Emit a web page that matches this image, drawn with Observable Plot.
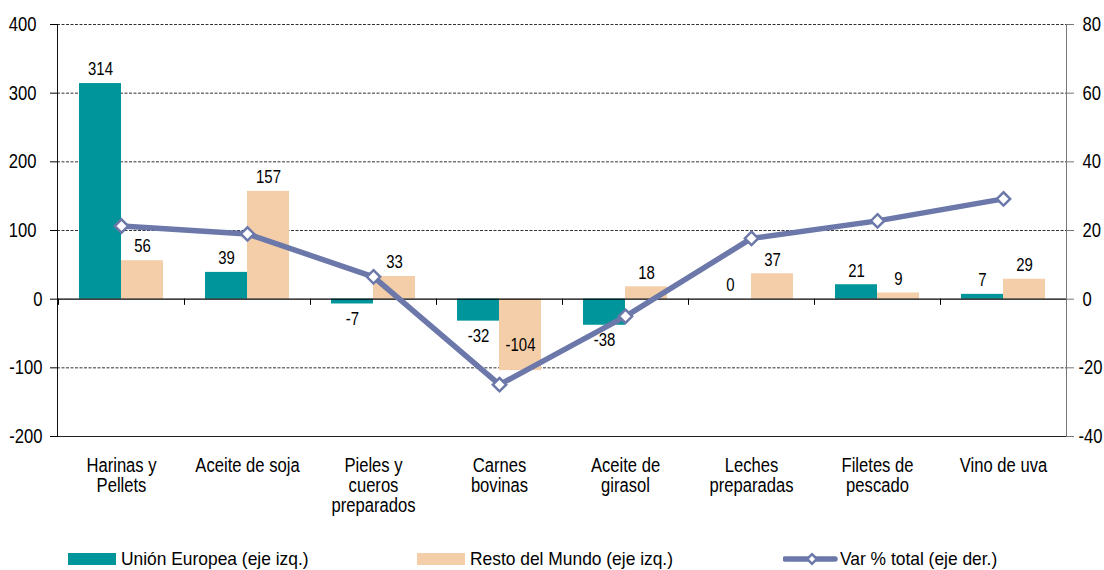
<!DOCTYPE html>
<html><head><meta charset="utf-8">
<script src="https://cdn.jsdelivr.net/npm/d3@7"></script>
<script src="https://cdn.jsdelivr.net/npm/@observablehq/plot@0.6"></script>
<style>
body{margin:0;background:#fff;}
#chart{position:relative;width:1104px;height:570px;font-family:"Liberation Sans",Arial,sans-serif;color:#000;}
#legend{position:relative;width:1104px;height:30px;font-size:18.5px;}
.item{position:absolute;top:4px;height:30px;display:flex;align-items:center;white-space:nowrap;}
.sw{display:inline-block;width:48px;height:12px;margin-right:5px;}
.lt{display:inline-block;transform:scaleX(0.94);transform-origin:left center;}
</style></head><body><div id="chart"></div>
<script>
const categories = ["Harinas y\nPellets", "Aceite de soja", "Pieles y\ncueros\npreparados", "Carnes\nbovinas", "Aceite de\ngirasol", "Leches\npreparadas", "Filetes de\npescado", "Vino de uva"];
const unionEuropea = [314, 39, -7, -32, -38, 0, 21, 7];
const restoMundo = [56, 157, 33, -104, 18, 37, 9, 29];
const varTotal = [21.3, 19.0, 6.5, -24.9, -5.0, 17.7, 22.8, 29.2];
const leftTicks = [-200, -100, 0, 100, 200, 300, 400];
const rightTicks = [-40, -20, 0, 20, 40, 60, 80];
const seriesNames = ["Unión Europea (eje izq.)", "Resto del Mundo (eje izq.)", "Var % total (eje der.)"];

const UE = "#00959B", RM = "#F4CEA8", LINE = "#6B78A9";
const FONT = '"Liberation Sans",Arial,sans-serif';
const K = 400 / 80; // right axis mapped onto left scale

const rows = categories.map((c, i) => ({cat: c, ue: unionEuropea[i], rm: restoMundo[i], pct: varTotal[i]}));
const half = 42;

const plot = Plot.plot({
  width: 1104, height: 540,
  marginLeft: 57, marginRight: 38, marginTop: 24, marginBottom: 104,
  style: {fontFamily: FONT, fontSize: "20px", color: "#000", background: "#fff", overflow: "visible"},
  x: {domain: categories, paddingInner: 1/3, paddingOuter: 1/6, label: null, axis: null},
  y: {domain: [-200, 400], label: null},
  marks: [
    Plot.ruleY(leftTicks.filter(t => t !== 0 && t !== -200), {stroke: "#333", strokeDasharray: "3,1.5", strokeWidth: 1}),
    Plot.barY(rows, {x: "cat", y: "ue", fill: UE, insetRight: half}),
    Plot.barY(rows, {x: "cat", y: "rm", fill: RM, insetLeft: half}),
    Plot.ruleY([0], {stroke: "#000", strokeWidth: 1.2}),
    Plot.ruleY([-200], {stroke: "#222", strokeWidth: 1.2}),
    Plot.ruleX(categories, {x: d => d, y1: 0, y2: -9, dx: -63, stroke: "#000"}),
    Plot.frame({anchor: "left", stroke: "#111"}),
    Plot.frame({anchor: "right", stroke: "#777"}),
    Plot.axisY(leftTicks.filter(t => t > 0), {anchor: "left", tickSize: 7, tickPadding: 14, tickFormat: d => d, fontSize: 20}),
    Plot.axisY(leftTicks.filter(t => t <= 0), {anchor: "left", tickSize: 7, tickPadding: 8, tickFormat: d => d, fontSize: 20}),
    Plot.axisY(rightTicks.filter(t => t >= 0).map(t => t * K), {anchor: "right", tickSize: 7, tickPadding: 9, tickFormat: d => d / K, fontSize: 20, stroke: "#777"}),
    Plot.axisY(rightTicks.filter(t => t < 0).map(t => t * K), {anchor: "right", tickSize: 7, tickPadding: 5, tickFormat: d => d / K, fontSize: 20, stroke: "#777"}),
    Plot.text(categories, {x: d => d, frameAnchor: "bottom", dy: 21, lineAnchor: "top", lineHeight: 1, fontSize: 20, fill: "#000"}),
    // value labels
    Plot.text(rows, {filter: d => d.ue >= 0, x: "cat", y: "ue", text: d => String(d.ue), dx: -21, dy: -14, fontSize: 18, fill: "#000"}),
    Plot.text(rows, {filter: d => d.ue < 0, x: "cat", y: "ue", text: d => String(d.ue), dx: -21, dy: 15, fontSize: 18, fill: "#000"}),
    Plot.text(rows, {filter: d => d.rm >= 0, x: "cat", y: "rm", text: d => String(d.rm), dx: 21, dy: -14, fontSize: 18, fill: "#000"}),
    Plot.text(rows, {filter: d => d.rm < 0 && d.rm >= -100, x: "cat", y: "rm", text: d => String(d.rm), dx: 21, dy: 15, fontSize: 18, fill: "#000"}),
    Plot.text(rows, {filter: d => d.rm < -100, x: "cat", y: "rm", text: d => String(d.rm), dx: 21, dy: -25, fontSize: 18, fill: "#000"}),
    // line on right axis
    Plot.line(rows, {x: "cat", y: d => d.pct * K, stroke: LINE, strokeWidth: 5.5}),
    Plot.dot(rows, {x: "cat", y: d => d.pct * K, symbol: "diamond2", r: 6, fill: "#fff", stroke: LINE, strokeWidth: 2.5})
  ]
});

const chart = document.getElementById("chart");
chart.appendChild(plot);

// condense chart text horizontally (narrow typeface look)
function condense(el, f) {
  const len = el.getComputedTextLength();
  if (len > 0) {
    el.setAttribute("textLength", (len * f).toFixed(2));
    el.setAttribute("lengthAdjust", "spacingAndGlyphs");
  }
}
plot.querySelectorAll("text").forEach(t => {
  const spans = t.querySelectorAll("tspan");
  if (spans.length) spans.forEach(s => condense(s, 0.83));
  else condense(t, 0.83);
});

const legend = document.createElement("div");
legend.id = "legend";
const lefts = [68, 417, 783];
seriesNames.forEach((name, i) => {
  const it = document.createElement("div");
  it.className = "item";
  it.style.left = lefts[i] + "px";
  if (i < 2) {
    const sw = document.createElement("span");
    sw.className = "sw";
    sw.style.background = i === 0 ? UE : RM;
    it.appendChild(sw);
  } else {
    const svg = d3.create("svg").attr("width", 56).attr("height", 20).style("margin-right", "1px");
    svg.append("line").attr("x1", 2).attr("x2", 52).attr("y1", 10).attr("y2", 10)
      .attr("stroke", LINE).attr("stroke-width", 5.5).attr("stroke-linecap", "round");
    svg.append("path").attr("d", d3.symbol(d3.symbolDiamond2, 60)()).attr("transform", "translate(29,10)")
      .attr("fill", "#fff").attr("stroke", LINE).attr("stroke-width", 2.5);
    it.appendChild(svg.node());
  }
  const t = document.createElement("span");
  t.className = "lt";
  t.textContent = name;
  it.appendChild(t);
  legend.appendChild(it);
});
chart.appendChild(legend);
</script></body></html>
